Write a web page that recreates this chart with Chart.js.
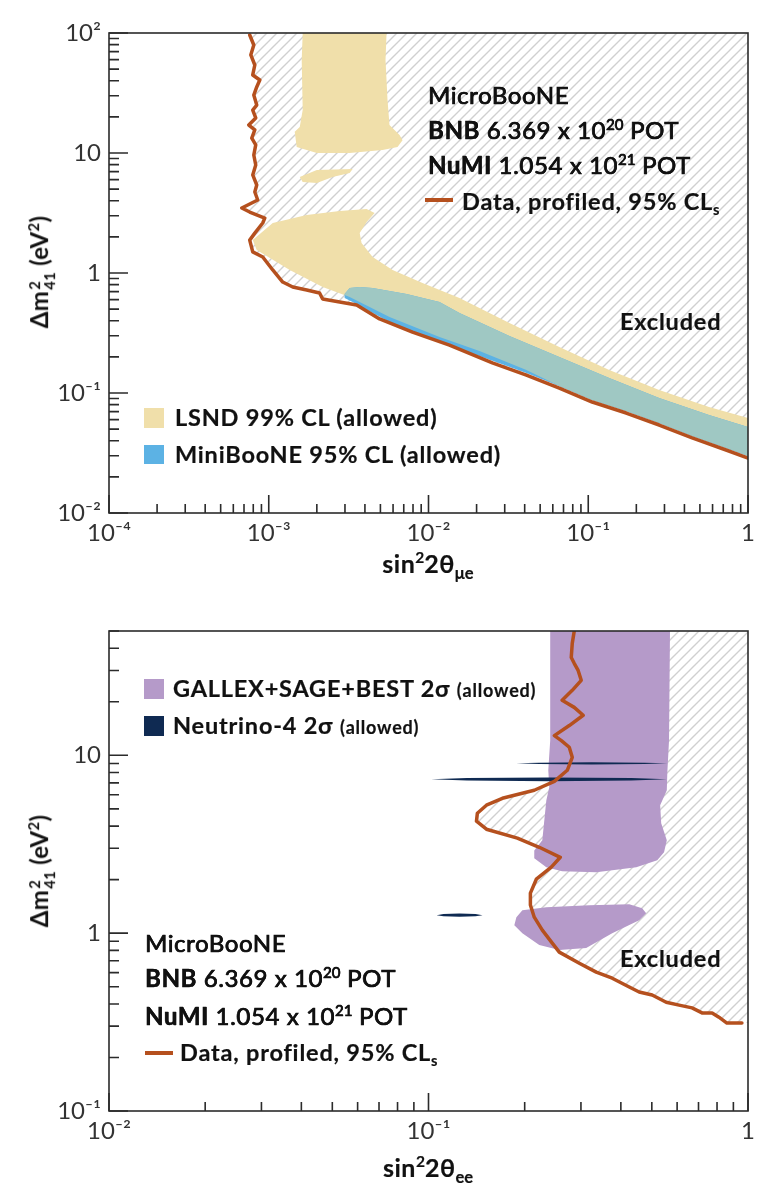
<!DOCTYPE html>
<html><head><meta charset="utf-8">
<script src="https://cdn.jsdelivr.net/npm/chart.js@4.4.1/dist/chart.umd.min.js"></script>
<style>
body{margin:0;background:#fff;font-family:Lato,"Open Sans",sans-serif;}
#wrap{position:relative;width:771px;height:1200px;overflow:hidden;background:#fff}
canvas{position:absolute;left:0}
.t{position:absolute;white-space:nowrap;color:#111;line-height:1;font-size:24px;font-weight:400;letter-spacing:0.6px;-webkit-text-stroke:0.7px #111;text-shadow:0.3px 0 0 #111}
.t b{font-weight:700;-webkit-text-stroke:0.4px #111}
.t.bd{font-weight:700;-webkit-text-stroke:0.2px #111;font-size:23.5px;letter-spacing:0.8px;text-shadow:none}
.t sup{font-size:0.62em;vertical-align:0.62em;line-height:0;letter-spacing:0}
.t sub{font-size:0.62em;vertical-align:-0.35em;line-height:0;letter-spacing:0}
.sw{position:absolute}
.rot{position:absolute;width:0;height:0}
.rot>span{position:absolute;left:0;top:0;transform:translate(-50%,-50%) rotate(-90deg);white-space:nowrap;font-weight:700;font-size:24px;color:#111;line-height:1;letter-spacing:0.3px}
.stk{display:inline-block;vertical-align:middle;font-size:0.62em;line-height:1;text-align:left;margin-left:1px}
.stk span{display:block}
.rot sup{font-size:0.62em;vertical-align:0.62em;line-height:0}
.t.xt{font-weight:700;font-size:25px;-webkit-text-stroke:0.2px #111;letter-spacing:0.5px;text-shadow:none}
.xt sub{font-size:0.66em}
</style></head>
<body>
<div id="wrap">
<canvas id="c1" width="771" height="590" style="top:0"></canvas>
<canvas id="c2" width="771" height="610" style="top:590px"></canvas>

<!-- top chart texts -->
<div class="t" style="left:428px;top:83px">MicroBooNE</div>
<div class="t" style="left:428px;top:118px"><b>BNB</b> 6.369 x 10<sup>20</sup> POT</div>
<div class="t" style="left:428px;top:153px"><b>NuMI</b> 1.054 x 10<sup>21</sup> POT</div>
<div class="sw" style="left:425px;top:198px;width:28px;height:3.5px;background:#b5501e"></div>
<div class="t bd" style="left:462px;top:190px">Data, profiled, 95% CL<sub>s</sub></div>
<div class="t bd" style="left:620px;top:310px">Excluded</div>
<div class="sw" style="left:144px;top:408px;width:20px;height:20px;background:#f0dfaa"></div>
<div class="t bd" style="left:175px;top:406px">LSND 99% CL (allowed)</div>
<div class="sw" style="left:144px;top:445px;width:20px;height:19px;background:#5cb2e4"></div>
<div class="t bd" style="left:175px;top:443px">MiniBooNE 95% CL (allowed)</div>
<div class="rot" style="left:42px;top:272px"><span>&Delta;m<span class="stk"><span>2</span><span>41</span></span> (eV<sup>2</sup>)</span></div>
<div class="t xt" style="left:428px;top:551px;transform:translateX(-50%)">sin<sup>2</sup>2&theta;<sub>&mu;e</sub></div>

<!-- bottom chart texts -->
<div class="sw" style="left:144px;top:679px;width:20px;height:20px;background:#b59ac9"></div>
<div class="t bd" style="left:173px;top:677px">GALLEX+SAGE+BEST 2&sigma; <span style="font-size:18px">(allowed)</span></div>
<div class="sw" style="left:144px;top:716px;width:20px;height:20px;background:#0f2a52"></div>
<div class="t bd" style="left:173px;top:714px">Neutrino-4 2&sigma; <span style="font-size:18px">(allowed)</span></div>
<div class="t" style="left:145px;top:931px">MicroBooNE</div>
<div class="t" style="left:145px;top:966px"><b>BNB</b> 6.369 x 10<sup>20</sup> POT</div>
<div class="t" style="left:145px;top:1004px"><b>NuMI</b> 1.054 x 10<sup>21</sup> POT</div>
<div class="sw" style="left:145px;top:1051px;width:28px;height:3.5px;background:#b5501e"></div>
<div class="t bd" style="left:180px;top:1041px">Data, profiled, 95% CL<sub>s</sub></div>
<div class="t bd" style="left:620px;top:947px">Excluded</div>
<div class="rot" style="left:42px;top:871px"><span>&Delta;m<span class="stk"><span>2</span><span>41</span></span> (eV<sup>2</sup>)</span></div>
<div class="t xt" style="left:428px;top:1155px;transform:translateX(-50%)">sin<sup>2</sup>2&theta;<sub>ee</sub></div>
</div>

<script>
// ---------------- TOP: sin^2 2theta_mue vs dm^2_41 ----------------
const topXTickValues = [1e-4, 1e-3, 1e-2, 1e-1, 1];
const topXTickLabels = ['10\u207B\u2074', '10\u207B\u00B3', '10\u207B\u00B2', '10\u207B\u00B9', '1'];
const topYTickValues = [1e-2, 1e-1, 1, 10, 100];
const topYTickLabels = ['10\u207B\u00B2', '10\u207B\u00B9', '1', '10', '10\u00B2'];

// MicroBooNE data, profiled, 95% CLs (top)
const topExclusionCurve = [
 [7.60e-4,96.2],[8.06e-4,79.4],[7.72e-4,65.6],[8.18e-4,54.1],[7.94e-4,44.7],[8.79e-4,40.6],[8.41e-4,35.5],
 [8.06e-4,30.4],[8.41e-4,25.1],[7.94e-4,22.8],[8.29e-4,19.6],[7.50e-4,17.1],[8.18e-4,15.6],[7.83e-4,13.3],
 [8.29e-4,11.7],[8.06e-4,9.62],[8.29e-4,7.94],[7.94e-4,6.56],[8.41e-4,5.41],[8.18e-4,4.73],[8.53e-4,4.06],
 [6.78e-4,3.48],[7.60e-4,3.22],[9.44e-4,2.87],[9.17e-4,2.61],[8.18e-4,2.15],[7.60e-4,1.88],[7.94e-4,1.50],
 [9.17e-4,1.36],[1.059e-3,1.06],[1.223e-3,0.841],[1.413e-3,0.764],[1.728e-3,0.722],[2.08e-3,0.681],
 [2.175e-3,0.607],[2.78e-3,0.573],[3.55e-3,0.541],[4.94e-3,0.414],[7.94e-3,0.322],[0.01353,0.251],
 [0.0251,0.178],[0.041,0.141],[0.0659,0.110],[0.1059,0.0841],[0.1728,0.0681],[0.278,0.0541],
 [0.447,0.0422],[0.729,0.0335],[1.0,0.0287]
];
// LSND 99% CL allowed regions
const topLsndUpper = [
 [1.631e-3,100],[5.464e-3,100],[5.383e-3,59.6],[5.54e-3,27.7],[5.70e-3,17.1],[6.59e-3,14.1],[6.88e-3,12.8],
 [6.40e-3,11.2],[5.16e-3,10.6],[3.21e-3,10.0],[2.0e-3,10.0],[1.496e-3,11.2],[1.454e-3,15.0],[1.563e-3,16.5],
 [1.631e-3,22.8],[1.608e-3,59.6]
];
const topLsndIsland = [
 [1.563e-3,6.31],[2.0e-3,7.22],[3.35e-3,7.36],[3.21e-3,6.81],[2.51e-3,6.31],[2.0e-3,5.62],[1.631e-3,5.73]
];
const topLsndLower = [
 [7.94e-4,1.884],[1.059e-3,2.61],[1.728e-3,3.04],[2.78e-3,3.29],[4.10e-3,3.41],[4.60e-3,3.16],[4.10e-3,2.66],
 [3.71e-3,2.15],[3.81e-3,1.778],[4.47e-3,1.359],[5.96e-3,1.059],[9.17e-3,0.825],[0.01563,0.619],[0.0321,0.383],
 [0.0659,0.2416],[0.1353,0.1554],[0.278,0.1059],[0.570,0.0764],[1.0,0.0619],[1.0,0.0304],[0.447,0.0438],
 [0.278,0.0562],[0.1728,0.0708],[0.1059,0.0874],[0.0659,0.1166],[0.041,0.1554],[0.02084,0.2239],
 [0.01172,0.293],[5.70e-3,0.43],[3.21e-3,0.631],[2.175e-3,0.764],[1.353e-3,1.059],[8.41e-4,1.556]
];
// MiniBooNE 95% CL allowed region (full) and its overlap with LSND
const topMiniBooNE = [
 [2.985e-3,0.668],[3.21e-3,0.75],[3.71e-3,0.764],[4.47e-3,0.75],[7.29e-3,0.668],[0.01172,0.573],[0.01563,0.464],
 [0.0321,0.2985],[0.0659,0.1995],[0.1353,0.1334],[0.278,0.0908],[0.570,0.0656],[1.0,0.0521],[1.0,0.0299],
 [0.729,0.0348],[0.447,0.0438],[0.278,0.0562],[0.1728,0.0708],[0.1059,0.0874],[0.0659,0.1144],[0.041,0.1468],
 [0.02084,0.2034],[0.01172,0.266],[5.70e-3,0.391],[3.35e-3,0.573],[2.985e-3,0.619]
];
const topOverlap = [
 [2.985e-3,0.668],[3.21e-3,0.75],[3.71e-3,0.764],[4.47e-3,0.75],[7.29e-3,0.668],[0.01172,0.573],[0.01563,0.464],
 [0.0321,0.2985],[0.0659,0.1995],[0.1353,0.1334],[0.278,0.0908],[0.570,0.0656],[1.0,0.0521],[1.0,0.0299],
 [0.729,0.0348],[0.447,0.0438],[0.278,0.0562],[0.1728,0.0708],[0.1059,0.0874],[0.0659,0.1144],[0.041,0.1554],
 [0.02084,0.2239],[0.01172,0.293],[5.70e-3,0.43],[3.21e-3,0.631],[2.985e-3,0.656]
];

// ---------------- BOTTOM: sin^2 2theta_ee vs dm^2_41 ----------------
const botXTickValues = [1e-2, 1e-1, 1];
const botXTickLabels = ['10\u207B\u00B2', '10\u207B\u00B9', '1'];
const botYTickValues = [0.1, 1, 10];
const botYTickLabels = ['10\u207B\u00B9', '1', '10'];

const botExclusionCurve = [
 [0.2858,49.8],[0.2818,42.6],[0.2798,35.5],[0.2858,32.9],[0.294,30.0],[0.3006,26.4],[0.2818,23.2],[0.262,20.4],
 [0.2858,18.6],[0.3049,16.8],[0.2758,14.7],[0.2477,12.9],[0.2606,12.1],[0.2758,11.1],[0.2818,9.75],[0.2719,8.24],
 [0.2477,7.14],[0.2143,6.36],[0.1703,5.73],[0.1518,5.24],[0.1422,4.72],[0.1413,4.26],[0.1518,3.84],[0.1897,3.42],
 [0.2222,3.04],[0.2585,2.67],[0.2423,2.35],[0.2175,2.01],[0.2084,1.68],[0.2084,1.44],[0.2143,1.23],[0.2271,1.04],
 [0.244,0.879],[0.2566,0.782],[0.2965,0.678],[0.335,0.604],[0.3758,0.558],[0.4249,0.498],[0.4564,0.467],
 [0.5012,0.449],[0.5546,0.409],[0.6085,0.394],[0.668,0.380],[0.718,0.356],[0.772,0.356],[0.811,0.337],
 [0.859,0.312],[0.957,0.312]
];
const botGallexUpper = [
 [0.2404,50],[0.570,50],[0.566,12.1],[0.559,7.93],[0.557,6.36],[0.531,5.24],[0.535,4.15],[0.557,3.33],
 [0.546,2.85],[0.520,2.57],[0.447,2.35],[0.335,2.20],[0.262,2.23],[0.2338,2.35],[0.2143,2.64],[0.2143,2.92],
 [0.2271,3.33],[0.2304,4.31],[0.2338,5.58],[0.2388,6.61],[0.2371,8.24],[0.2404,12.1]
];
const botGallexLower = [
 [0.1884,1.23],[0.1967,1.346],[0.2338,1.40],[0.3185,1.436],[0.4249,1.455],[0.4665,1.38],[0.480,1.294],
 [0.4564,1.183],[0.3758,1.0],[0.3116,0.824],[0.2566,0.803],[0.2222,0.857],[0.1967,1.0],[0.1856,1.109]
];
const botNeutrino4A = [[0.188,9.02],[0.222,9.09],[0.324,9.15],[0.474,9.09],[0.559,9.02],[0.474,8.95],[0.324,8.89],[0.222,8.95]];
const botNeutrino4B = [[0.102,7.33],[0.132,7.45],[0.2385,7.51],[0.4315,7.45],[0.557,7.33],[0.4315,7.21],[0.2385,7.15],[0.132,7.21]];
const botNeutrino4C = [[0.106,1.262],[0.1114,1.28],[0.125,1.289],[0.1403,1.28],[0.1476,1.262],[0.1403,1.245],[0.125,1.235],[0.1114,1.245]];

const RED = '#b5501e', YELLOW = '#f0dfaa', BLUE = '#5cb2e4', TEAL = '#9fc8c3', PURPLE = '#b59ac9', NAVY = '#0f2a52';

function makeHatch(ctx){
  const c = document.createElement('canvas'); c.width = 10; c.height = 10;
  const g = c.getContext('2d');
  g.strokeStyle = '#d0d0d0'; g.lineWidth = 1.4;
  g.beginPath();
  g.moveTo(-1,11); g.lineTo(11,-1);
  g.moveTo(-6,6); g.lineTo(6,-6);
  g.moveTo(4,16); g.lineTo(16,4);
  g.stroke();
  return ctx.createPattern(c,'repeat');
}
const toXY = pts => pts.map(p => ({x:p[0], y:p[1]}));
function polygon(pts, color, order){
  return {data:toXY(pts), showLine:true, fill:'shape', backgroundColor:color, borderColor:'rgba(0,0,0,0)',
          borderWidth:0, pointRadius:0, pointHoverRadius:0, tension:0, order};
}
function curve(pts, color, order){
  return {data:toXY(pts), showLine:true, fill:false, borderColor:color, borderWidth:3.5, pointRadius:0,
          pointHoverRadius:0, tension:0, order, borderJoinStyle:'round', borderCapStyle:'round'};
}
function logAxis(min, max, values, labels, isX, size){
  return {
    type:'logarithmic', min, max, position: isX ? 'bottom' : 'left',
    grid:{display:false, drawTicks:false}, border:{display:false},
    afterBuildTicks: s => { s.ticks = values.map(v => ({value:v, major:true})); },
    afterFit: s => { if (isX) s.height = size; else s.width = size; },
    ticks:{autoSkip:false, maxRotation:0, minRotation:0, padding: isX ? 6 : 8, color:'#333',
           font:{family:'Lato', size:24, weight:'normal'}, callback:(v,i) => labels[i]}
  };
}
const frameTicks = {
  id:'frameTicks',
  afterDatasetsDraw(chart){
    const {ctx, chartArea:a, scales:{x, y}} = chart;
    ctx.save();
    ctx.strokeStyle = '#2b2b2b'; ctx.lineWidth = 1.6;
    const each = (s, fn) => {
      const lo = Math.floor(Math.log10(s.min) + 1e-9), hi = Math.ceil(Math.log10(s.max) - 1e-9);
      for (let d = lo; d <= hi; d++) for (let m = 1; m <= 9; m++) {
        const v = m * Math.pow(10, d);
        if (v < s.min * 0.999 || v > s.max * 1.001) continue;
        fn(s.getPixelForValue(v), m === 1);
      }
    };
    ctx.beginPath();
    each(x, (px, major) => { ctx.moveTo(px, a.bottom); ctx.lineTo(px, a.bottom - (major ? 18 : 9)); });
    each(y, (py, major) => { ctx.moveTo(a.left, py); ctx.lineTo(a.left + (major ? 19 : 10), py); });
    ctx.stroke();
    ctx.strokeRect(a.left, a.top, a.right - a.left, a.bottom - a.top);
    ctx.restore();
  }
};
function build(canvas, datasets, xAxis, yAxis, padTop){
  return new Chart(canvas, {
    type:'scatter',
    data:{datasets},
    options:{
      responsive:false, animation:false, events:[],
      layout:{padding:{top:padTop, right:23, left:0, bottom:0}},
      scales:{x:xAxis, y:yAxis},
      plugins:{legend:{display:false}, tooltip:{enabled:false}}
    },
    plugins:[frameTicks]
  });
}

const c1 = document.getElementById('c1');
const hatch1 = makeHatch(c1.getContext('2d'));
build(c1, [
  curve(topExclusionCurve, RED, 0),
  polygon(topOverlap, TEAL, 2),
  polygon(topMiniBooNE, BLUE, 3),
  polygon(topLsndLower, YELLOW, 4),
  polygon(topLsndIsland, YELLOW, 4),
  polygon(topLsndUpper, YELLOW, 4),
  polygon([[topExclusionCurve[0][0], 100], ...topExclusionCurve, [1, 100]], hatch1, 9)
], logAxis(1e-4, 1, topXTickValues, topXTickLabels, true, 77),
   logAxis(1e-2, 100, topYTickValues, topYTickLabels, false, 109), 33);

const c2 = document.getElementById('c2');
const hatch2 = makeHatch(c2.getContext('2d'));
const botLast = botExclusionCurve[botExclusionCurve.length - 1];
build(c2, [
  curve(botExclusionCurve, RED, 0),
  polygon(botNeutrino4A, NAVY, 2),
  polygon(botNeutrino4B, NAVY, 2),
  polygon(botNeutrino4C, NAVY, 2),
  polygon(botGallexUpper, PURPLE, 4),
  polygon(botGallexLower, PURPLE, 4),
  polygon([[botExclusionCurve[0][0], 50], ...botExclusionCurve, [1, botLast[1]], [1, 50]], hatch2, 9)
], logAxis(1e-2, 1, botXTickValues, botXTickLabels, true, 89),
   logAxis(0.1, 50, botYTickValues, botYTickLabels, false, 109), 41);
</script>
</body></html>
